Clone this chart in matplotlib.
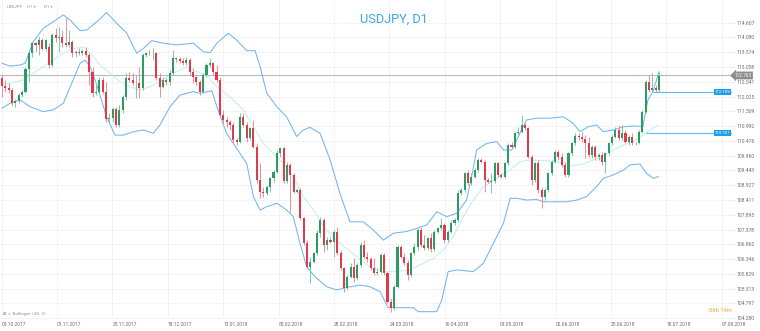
import matplotlib
matplotlib.use("Agg")
import matplotlib.pyplot as plt
import numpy as np
from matplotlib.transforms import blended_transform_factory

# ---------------- data ----------------
opens = [112.66,112.39,112.31,112.26,111.79,111.88,112.08,112.20,112.98,113.54,
         113.89,113.83,114.00,113.68,113.77,113.13,114.18,114.06,114.12,113.89,
         113.83,113.94,113.54,113.59,113.56,113.63,113.48,112.90,112.14,112.20,
         112.61,112.20,111.23,111.27,111.59,111.03,111.56,112.00,112.66,112.61,
         112.49,112.51,112.31,113.48,113.56,113.54,113.56,112.66,112.37,112.61,
         112.55,112.84,113.36,113.33,113.28,113.19,113.30,112.90,112.72,112.55,
         112.20,112.78,113.13,113.19,112.90,112.61,111.38,111.21,111.12,111.03,
         110.51,110.45,111.32,111.03,110.57,110.92,110.28,109.11,108.70,108.64,
         108.88,109.17,109.40,110.07,110.22,109.09,109.64,109.29,108.70,108.76,
         107.77,106.90,106.08,106.26,106.55,107.25,107.71,106.84,107.01,106.96,
         107.31,106.55,106.03,105.33,105.73,106.08,105.68,106.14,106.84,106.43,
         106.34,106.03,105.85,105.91,106.49,105.85,104.86,104.63,105.38,106.76,
         106.43,106.20,105.79,106.55,106.76,107.36,106.84,106.72,107.07,106.69,
         107.31,107.42,107.54,107.01,107.31,107.60,107.71,108.67,108.76,109.34,
         108.99,109.23,109.46,109.81,109.75,109.11,109.05,109.09,109.69,109.29,
         109.23,109.69,110.33,110.28,110.74,110.80,111.03,110.92,109.93,109.11,
         109.69,108.76,108.53,108.76,109.34,109.75,110.10,109.93,109.64,109.29,
         110.04,110.39,110.65,110.60,110.53,110.39,109.98,110.28,109.93,109.98,
         109.75,110.04,110.39,110.63,110.86,110.57,110.74,110.45,110.63,110.39,
         110.41,110.80,111.50,112.55,112.26,112.31,112.26]
highs = [112.78,112.61,112.49,112.31,111.93,112.14,112.26,113.07,113.59,113.94,
         113.94,114.14,114.06,114.03,113.89,114.24,114.41,114.47,114.35,114.76,
         114.35,114.00,113.65,113.71,113.68,113.77,113.54,113.07,112.43,112.72,
         112.72,112.55,111.44,111.67,111.67,111.73,112.08,112.84,112.90,112.84,
         112.78,113.07,113.54,113.59,113.65,113.71,113.59,112.84,112.72,112.66,
         112.95,113.65,113.42,113.42,113.36,113.42,113.36,113.01,112.78,112.61,
         112.84,113.19,113.36,113.25,113.13,112.72,111.56,111.32,111.21,111.15,
         110.57,111.44,111.44,111.15,110.97,111.21,110.39,109.69,108.88,108.94,
         109.23,109.46,110.16,110.28,110.28,109.75,109.69,109.34,108.82,108.82,
         107.83,107.01,106.43,106.61,107.36,107.83,107.77,107.13,107.13,107.36,
         107.48,106.67,106.08,105.79,106.20,106.37,106.20,106.96,107.01,106.61,
         106.43,106.37,106.03,106.55,106.55,105.91,104.98,105.44,106.84,106.84,
         106.55,106.32,106.61,106.90,107.42,107.48,107.19,107.13,107.25,107.36,
         107.48,107.77,107.60,107.36,107.71,107.77,108.76,108.82,109.40,109.46,
         109.34,109.52,109.87,109.87,109.81,109.17,109.34,109.75,109.75,109.34,
         109.75,110.39,110.45,110.80,110.97,111.38,111.09,110.97,109.98,109.75,
         109.81,108.88,108.82,109.40,109.81,110.16,110.16,110.04,109.75,110.10,
         110.45,110.74,110.74,110.80,110.68,110.63,110.33,110.33,110.04,110.10,
         110.10,110.45,110.68,110.97,111.03,111.03,110.86,110.68,110.74,110.45,
         110.86,111.56,112.61,112.78,112.84,112.43,112.90]
lows = [112.02,112.20,112.14,111.70,111.67,111.79,112.00,112.14,112.55,113.42,
        113.59,113.48,113.65,113.63,113.01,113.07,113.94,113.59,113.77,113.77,
        113.77,113.42,113.42,113.48,113.48,113.42,112.43,112.02,112.08,112.14,
        112.14,111.15,111.09,111.15,110.97,110.97,111.44,111.91,112.55,112.43,
        111.97,111.97,112.26,113.42,113.48,113.30,112.61,112.02,112.31,112.43,
        112.43,112.78,113.25,113.19,113.13,113.13,112.78,112.49,112.43,112.08,
        112.14,112.72,113.07,112.78,112.55,111.32,111.09,110.97,110.86,110.39,
        110.33,110.39,110.97,110.45,110.51,110.22,108.99,108.47,108.53,108.59,
        108.70,109.05,109.34,109.93,108.99,108.99,108.00,108.64,108.67,107.71,
        106.84,106.03,105.50,106.20,106.49,107.13,106.61,106.67,106.90,106.43,
        106.49,105.97,105.21,105.27,105.68,105.56,105.62,106.08,106.37,106.26,
        105.97,105.79,105.79,105.85,105.79,104.80,104.51,104.57,105.33,106.37,
        106.14,105.62,105.73,106.49,106.67,106.78,106.67,106.67,106.61,106.64,
        107.25,107.36,106.90,106.96,107.25,107.54,107.65,108.59,108.70,108.94,
        108.94,109.17,109.40,109.69,108.70,108.99,108.64,108.99,109.23,109.17,
        109.17,109.64,110.22,110.22,110.68,110.74,110.86,109.87,108.94,109.05,
        108.64,108.12,108.41,108.70,109.29,109.69,109.81,109.58,109.23,109.23,
        109.98,110.33,110.51,110.45,109.87,109.93,109.87,109.81,109.81,109.64,
        109.34,109.98,110.33,110.57,110.51,110.51,110.39,110.33,110.33,110.33,
        110.37,110.74,111.44,112.20,112.20,112.20,112.20]
closes = [112.39,112.31,112.26,111.79,111.88,112.08,112.20,112.98,113.54,113.89,
          113.83,114.00,113.68,114.00,113.13,114.18,114.06,114.12,113.89,113.83,
          113.94,113.54,113.59,113.56,113.63,113.48,112.90,112.14,112.20,112.61,
          112.20,111.23,111.27,111.59,111.03,111.56,112.00,112.66,112.61,112.49,
          112.51,112.31,113.48,113.56,113.54,113.56,112.66,112.37,112.61,112.55,
          112.84,113.36,113.33,113.28,113.19,113.30,112.90,112.72,112.55,112.20,
          112.78,113.13,113.19,112.90,112.61,111.38,111.21,111.12,111.03,110.51,
          110.45,111.32,111.03,110.57,110.92,110.28,109.11,108.70,108.64,108.88,
          109.17,109.40,110.07,110.22,109.09,109.64,109.29,108.70,108.76,107.77,
          106.90,106.08,106.26,106.55,107.25,107.71,106.84,107.01,106.96,107.31,
          106.55,106.03,105.33,105.73,106.08,105.68,106.14,106.84,106.43,106.34,
          106.03,105.85,105.91,106.49,105.85,104.86,104.63,105.38,106.76,106.43,
          106.20,105.79,106.55,106.76,107.36,106.84,106.72,107.07,106.69,107.31,
          107.42,107.54,107.01,107.31,107.60,107.71,108.67,108.76,109.34,108.99,
          109.23,109.46,109.81,109.75,109.11,109.05,109.09,109.69,109.29,109.23,
          109.69,110.33,110.28,110.74,110.80,111.03,110.92,109.93,109.11,109.69,
          108.76,108.53,108.76,109.34,109.75,110.10,109.93,109.64,109.29,110.04,
          110.39,110.65,110.60,110.53,110.39,109.98,110.28,109.93,109.98,109.75,
          110.04,110.39,110.63,110.86,110.57,110.74,110.45,110.63,110.39,110.41,
          110.80,111.50,112.55,112.26,112.31,112.26,112.76]

# Bollinger (20, 2) bands (bar position, price)
bb_upper_bar = [0,2.4,5.4,6.9,9.3,12.3,15.3,18.3,20.3,23.3,25.3,28.3,31.2,34.2,37.2,40.2,
                42.2,44.7,48.1,52.1,57.1,60.1,62.1,64.1,67.5,70.0,73.0,75.5,77.0,79.0,
                82.0,84.9,87.9,89.9,91.9,94.9,97.9,100.8,103.8,107.8,110.8,113.8,116.7,
                120.7,123.7,126.7,129.7,132.7,135.7,138.6,140.1,141.6,144.6,147.6,149.6,
                152.1,154.5,156.5,159.5,163.5,167.5,170.4,172.4,174.9,177.4,179.4,182.4,
                185.4,188.3,191.2,192.7,194.2,196.0]
bb_upper = [113.19,113.09,113.13,113.19,113.94,114.41,114.64,114.88,114.70,114.33,114.35,
            114.64,114.96,114.59,114.24,113.54,113.71,113.98,113.89,113.83,113.89,113.59,
            113.56,113.89,114.24,114.00,113.63,113.63,113.07,112.14,111.67,111.32,110.63,
            110.86,110.95,110.74,109.81,108.65,107.65,107.65,107.36,107.01,107.25,107.31,
            107.42,107.54,108.00,107.83,107.95,108.41,109.23,110.16,110.39,110.45,110.16,
            110.16,110.74,111.21,111.27,111.27,111.32,111.09,110.80,110.97,111.03,110.80,
            110.86,110.97,111.00,110.98,111.91,112.20,112.89]
bb_mid_bar = [0,6.4,9.3,12.3,15.3,18.3,21.3,24.3,26.3,29.2,32.2,35.2,38.2,41.2,44.2,47.1,
              50.1,53.1,55.1,58.1,61.1,63.0,66.0,69.0,72.0,75.0,78.0,80.9,83.9,86.9,89.9,
              92.9,95.9,100.8,105.8,109.8,113.8,117.8,121.7,125.7,128.7,131.7,134.6,137.6,
              140.6,143.6,147.6,151.6,154.5,157.5,161.5,165.5,169.5,173.4,176.4,179.4,
              182.4,185.4,188.3,191.3,193.3,195.8]
bb_mid = [112.43,112.61,112.84,113.07,113.30,113.54,113.71,113.75,113.54,113.13,112.84,
          112.55,112.37,112.26,112.37,112.55,112.78,112.95,113.05,112.90,112.78,112.49,
          112.20,111.91,111.56,110.97,110.39,110.04,109.69,109.23,108.53,108.06,107.48,
          106.90,106.43,106.08,105.91,105.91,105.97,106.20,106.37,106.67,107.13,107.83,
          108.41,108.88,109.17,109.46,109.75,109.81,109.79,109.75,109.60,109.67,109.81,
          109.93,110.16,110.33,110.45,110.68,110.86,111.03]
bb_lower_bar = [0,2.4,5.4,8.4,12.3,15.3,18.3,20.8,23.3,24.8,26.3,28.3,31.2,33.7,36.2,39.2,
                42.2,45.1,47.1,50.1,53.1,57.1,59.1,62.6,64.1,67.0,69.0,71.0,73.0,75.0,77.0,
                79.0,82.0,84.9,86.9,88.9,90.9,93.4,96.9,99.9,103.8,106.8,109.8,112.8,115.2,
                122.7,124.2,129.7,131.2,133.1,135.7,140.6,143.6,146.6,149.6,151.6,153.6,
                156.5,159.5,161.5,164.5,168.5,171.5,174.4,177.4,179.4,182.4,185.4,187.4,
                190.3,192.3,194.3,195.8]
bb_lower = [111.62,111.79,111.91,111.67,111.50,111.56,111.79,112.49,113.19,113.30,113.07,
            112.43,111.32,110.68,110.68,110.80,110.86,110.74,111.03,111.67,112.08,112.20,
            112.14,112.23,111.67,110.74,110.39,110.04,109.69,108.53,108.06,108.18,108.30,
            108.06,107.83,106.90,106.08,105.73,105.38,105.27,105.38,105.44,105.38,105.21,
            104.65,104.65,104.51,104.51,104.92,105.91,105.97,105.91,106.20,106.90,107.60,
            108.47,108.47,108.41,108.43,108.35,108.35,108.35,108.41,108.53,108.88,109.17,
            109.29,109.46,109.64,109.67,109.34,109.17,109.23]

price_ticks = [114.607,114.090,113.574,113.058,112.541,112.025,111.509,110.992,110.476,
               109.960,109.443,108.927,108.411,107.895,107.378,106.862,106.346,105.829,
               105.313,104.797,104.280]
date_labels = ['09.10.2017','01.11.2017','25.11.2017','18.12.2017','13.01.2018',
               '05.02.2018','28.02.2018','24.03.2018','16.04.2018','09.05.2018',
               '02.06.2018','25.06.2018','18.07.2018','07.08.2018']
current_price = 112.763
level_lines = [112.189, 110.761]
title = "USDJPY, D1"
symbol = "USDJPY"
timeframes = ["H1 \u25be", "D1 \u25be"]
indicator_label = "\u229e \u00d7 Bollinger (20, 2)"
countdown = "06h 19m"

# ---------------- layout ----------------
W, H = 760, 331
PLOT_R = 732            # right edge of plot area (px)
BAR0_PX, BAR_PX = 2.0, 3.352
REF_PRICE, REF_Y, PX_PER_UNIT = 114.607, 22.7, 28.62
LABEL_STEP_PX = 55.4

GREEN = '#2b9d63'
RED = '#e4384b'
GREEN_W = '#7fc7a1'
RED_W = '#ee8d98'
BAND = '#72b5f2'
MID = '#bdeef2'
GRID = '#f1f1f1'
TXT = '#6b6b6b'

plt.rcParams['font.family'] = ['Roboto', 'DejaVu Sans']

fig = plt.figure(figsize=(W / 100, H / 100), dpi=100)
fig.patch.set_facecolor('white')
ax = fig.add_axes([0, 0, PLOT_R / W, 1])
ax.set_facecolor('white')

x_left = (0 - BAR0_PX) / BAR_PX
x_right = (PLOT_R - BAR0_PX) / BAR_PX
y_top = REF_PRICE + REF_Y / PX_PER_UNIT
y_bot = REF_PRICE - (H - REF_Y) / PX_PER_UNIT
ax.set_xlim(x_left, x_right)
ax.set_ylim(y_bot, y_top)

for s in ax.spines.values():
    s.set_visible(False)

# grid
label_bars = [(1.6 + LABEL_STEP_PX * k - BAR0_PX) / BAR_PX for k in range(len(date_labels))]
for p in price_ticks:
    ax.axhline(p, color=GRID, lw=0.6, zorder=0)
for b in label_bars:
    ax.axvline(b, ymin=(H - 316) / H, ymax=1, color=GRID, lw=0.6, zorder=0)

# y tick labels on right
ax.yaxis.tick_right()
ax.set_yticks(price_ticks)
ax.set_yticklabels([f"{p:.3f}" for p in price_ticks])
ax.tick_params(axis='y', length=2.2, width=0.5, color='#dcdcdc', pad=1.2,
               labelsize=3.6, labelcolor=TXT)
ax.set_xticks([])

# date labels
trans = blended_transform_factory(ax.transData, fig.transFigure)
for b, lab in zip(label_bars, date_labels):
    ax.text(b, 1 - 325 / H, lab, transform=trans, ha='left', va='center',
            fontsize=3.5, color=TXT, clip_on=False)

# Bollinger bands
ax.plot(bb_mid_bar, bb_mid, color=MID, lw=0.7, zorder=2)
ax.plot(bb_upper_bar, bb_upper, color=BAND, lw=0.75, zorder=2)
ax.plot(bb_lower_bar, bb_lower, color=BAND, lw=0.75, zorder=2)

# candles
o = np.array(opens); c = np.array(closes)
hi = np.array(highs); lo = np.array(lows)
idx = np.arange(len(c))
up = c >= o
ax.vlines(idx, lo, hi, colors=np.where(up, GREEN_W, RED_W), lw=0.7, zorder=3)
ax.bar(idx, np.maximum(np.abs(c - o), 0.025), bottom=np.minimum(o, c), width=0.62,
       color=np.where(up, GREEN, RED), linewidth=0, zorder=4)

# current price line
ax.axhline(current_price, color='#b9b9b9', lw=0.8, zorder=1)
ytrans = blended_transform_factory(ax.transAxes, ax.transData)
ax.text(743 / PLOT_R, current_price, f"{current_price:.3f}", transform=ytrans,
        ha='center', va='center', fontsize=3.4, color='white', clip_on=False, zorder=6,
        bbox=dict(boxstyle='larrow,pad=0.3', fc='#8d8d8d', ec='none'))

# horizontal level lines with tags
level_start = [(653 - BAR0_PX) / BAR_PX, (646 - BAR0_PX) / BAR_PX]
for lv, xs in zip(level_lines, level_start):
    ax.hlines(lv, xs, x_right, color='#5bb8f5', lw=0.8, zorder=5)
    ax.text(722.5 / PLOT_R, lv, f"{lv:.3f}", transform=ytrans, ha='center', va='center',
            fontsize=3.2, color='white', clip_on=False, zorder=6,
            bbox=dict(boxstyle='square,pad=0.25', fc='#1c9fe9', ec='none'))

# texts
fig.text(394 / W, 1 - 19 / H, title, fontsize=9.2, color='#3ba8e8', ha='center', va='center')
fig.text(7 / W, 1 - 7.5 / H, symbol, fontsize=3.2, color='#8a8a8a', ha='left', va='center')
fig.text(27 / W, 1 - 7.5 / H, timeframes[0], fontsize=3.2, color='#9a9a9a', ha='left', va='center')
fig.text(44 / W, 1 - 7.5 / H, timeframes[1], fontsize=3.2, color='#9a9a9a', ha='left', va='center')
fig.text(3 / W, 1 - 314 / H, indicator_label, fontsize=3.0, color='#8a8a8a', ha='left', va='center',
         family=['DejaVu Sans'])
fig.text(720 / W, 1 - 310 / H, countdown, fontsize=4.2, color='#f3a536', ha='center', va='center')

fig.savefig('out.png', dpi=100, facecolor='white')
